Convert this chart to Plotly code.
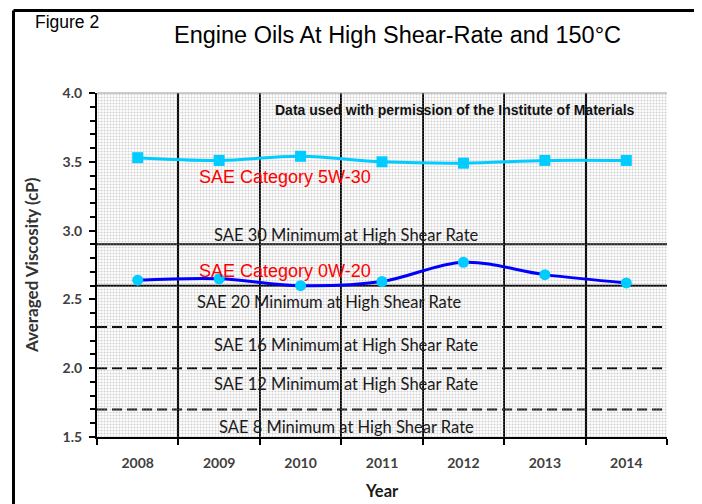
import plotly.graph_objects as go

# ---------------- data ----------------
years = ["2008", "2009", "2010", "2011", "2012", "2013", "2014"]
visc_5w30 = [3.53, 3.51, 3.54, 3.50, 3.49, 3.51, 3.51]
visc_0w20 = [2.64, 2.65, 2.60, 2.63, 2.77, 2.68, 2.62]
sae_grades = ["SAE 30", "SAE 20", "SAE 16", "SAE 12", "SAE 8"]
sae_min_hths = [2.9, 2.6, 2.3, 2.0, 1.7]
y_min, y_max = 1.5, 4.0

# ---------------- layout helpers ----------------
# the page body has an 8px default margin, so the figure is drawn 8px in/down
OFF = 8
W, H = 702 - OFF, 504 - OFF
L, T = 97 - OFF, 93 - OFF
R = W - (667 - OFF)
B = H - (437 - OFF)
PW, PH = W - L - R, H - T - B


def px_x(px):
    """page pixel x -> paper x"""
    return (px - OFF - L) / PW


def px_y(py):
    """page pixel y -> paper y"""
    return (H - B - (py - OFF)) / PH


CAL = "Lato, 'Open Sans', sans-serif"
ARIAL = "'Liberation Sans', Arial, sans-serif"

fig = go.Figure()

# dotted background fill of the plotting area
fig.add_trace(go.Bar(
    x=years, y=[y_max - y_min] * len(years), base=[y_min] * len(years),
    width=1.0, marker=dict(color="#a0a0a0", line=dict(width=0),
                           pattern=dict(shape=".", size=3, solidity=0.4,
                                        bgcolor="rgba(0,0,0,0)", fgcolor="#a4a4a4")),
    hoverinfo="skip", showlegend=False,
))

# 5W-30 series
fig.add_trace(go.Scatter(
    x=years, y=visc_5w30, mode="lines+markers", name="SAE Category 5W-30",
    line=dict(color="#00CCFF", width=3, shape="spline"),
    marker=dict(symbol="square", size=11, color="#00CCFF"),
    showlegend=False,
))

# 0W-20 series
fig.add_trace(go.Scatter(
    x=years, y=visc_0w20, mode="lines+markers", name="SAE Category 0W-20",
    line=dict(color="#0000FF", width=3, shape="spline"),
    marker=dict(symbol="circle", size=11, color="#00CCFF"),
    showlegend=False,
))

shapes = []
annotations = []

# SAE minimum lines
label_offsets = [0.068, -0.117, -0.131, -0.115, -0.125]
label_x = [2.57, 2.36, 2.57, 2.57, 2.57]
for i, (g, v) in enumerate(zip(sae_grades, sae_min_hths)):
    shapes.append(dict(
        type="line", xref="x domain", yref="y", x0=0, x1=1, y0=v, y1=v,
        line=dict(color="black", width=2, dash="solid" if i < 2 else "10px,5px"),
        layer="below",
    ))
    annotations.append(dict(
        x=label_x[i], y=v + label_offsets[i], xref="x", yref="y",
        xanchor="center", yanchor="middle",
        text=f"{g} Minimum at High Shear Rate", showarrow=False,
        font=dict(family=CAL, size=16.5, color="#1a1a1a"),
    ))

# top border of plot area (thin gray)
shapes.append(dict(type="line", xref="paper", yref="paper", x0=0, x1=1, y0=1, y1=1,
                   line=dict(color="#9a9a9a", width=1)))

# outer frame
frame = dict(color="black", width=3)
fx0, fx1, fy_top, fy_bot = px_x(13.5), px_x(697), px_y(10.5), px_y(530)
shapes += [
    dict(type="line", xref="paper", yref="paper", x0=fx0, x1=fx1, y0=fy_top, y1=fy_top, line=frame),
    dict(type="line", xref="paper", yref="paper", x0=fx0, x1=fx0, y0=fy_bot, y1=fy_top, line=frame),
    dict(type="line", xref="paper", yref="paper", x0=fx1, x1=fx1, y0=fy_bot, y1=fy_top, line=frame),
]

annotations += [
    dict(x=1.81, y=3.39, xref="x", yref="y", text="SAE Category 5W-30", showarrow=False,
         xanchor="center", yanchor="middle",
         font=dict(family=ARIAL, size=18, color="#FF0000")),
    dict(x=1.81, y=2.71, xref="x", yref="y", text="SAE Category 0W-20", showarrow=False,
         xanchor="center", yanchor="middle",
         font=dict(family=ARIAL, size=18, color="#FF0000")),
    dict(x=3.9, y=3.876, xref="x", yref="y", xanchor="center", yanchor="middle",
         text="<b>Data used with permission of the Institute of Materials</b>", showarrow=False,
         font=dict(family=ARIAL, size=14, color="#111111")),
    dict(x=px_x(33), y=px_y(22), xref="paper", yref="paper", xanchor="left", yanchor="middle",
         text="Figure 2", showarrow=False, font=dict(family=ARIAL, size=17.5, color="black")),
    dict(x=px_x(397), y=px_y(35), xref="paper", yref="paper", xanchor="center", yanchor="middle",
         text="Engine Oils At High Shear-Rate and 150°C", showarrow=False,
         font=dict(family=ARIAL, size=23.5, color="black")),
    dict(x=px_x(31), y=0.5, xref="paper", yref="paper", textangle=-90,
         xanchor="center", yanchor="middle",
         text="Averaged Viscosity (cP)", showarrow=False,
         font=dict(family=CAL, size=17, color="#333333", weight="bold")),
    dict(x=px_x(382), y=px_y(491), xref="paper", yref="paper",
         xanchor="center", yanchor="middle",
         text="Year", showarrow=False,
         font=dict(family=CAL, size=16.5, color="#1a1a1a", weight="bold")),
]

fig.update_layout(
    width=W, height=H,
    margin=dict(l=L, r=R, t=T, b=B, pad=0),
    paper_bgcolor="white", plot_bgcolor="white",
    bargap=0, shapes=shapes, annotations=annotations,
    showlegend=False,
)
fig.update_xaxes(
    type="category", range=[-0.5, 6.5], tickson="boundaries",
    showgrid=True, gridcolor="black", gridwidth=2,
    showline=True, linecolor="black", linewidth=2,
    ticks="outside", ticklen=6, tickwidth=2, tickcolor="black",
    tickfont=dict(family=CAL, size=14, color="#404040", weight="bold"),
    ticklabelstandoff=12, zeroline=False,
)
fig.update_yaxes(
    range=[y_min, y_max], dtick=0.5, tickformat=".1f",
    showgrid=False, zeroline=False,
    showline=True, linecolor="black", linewidth=2,
    ticks="outside", ticklen=6, tickwidth=2, tickcolor="black",
    minor=dict(dtick=0.1, ticks="outside", ticklen=5, tickwidth=2, tickcolor="black", showgrid=False),
    tickfont=dict(family=CAL, size=14, color="#404040", weight="bold"),
    ticklabelstandoff=4,
)

fig.write_html("out.html")
